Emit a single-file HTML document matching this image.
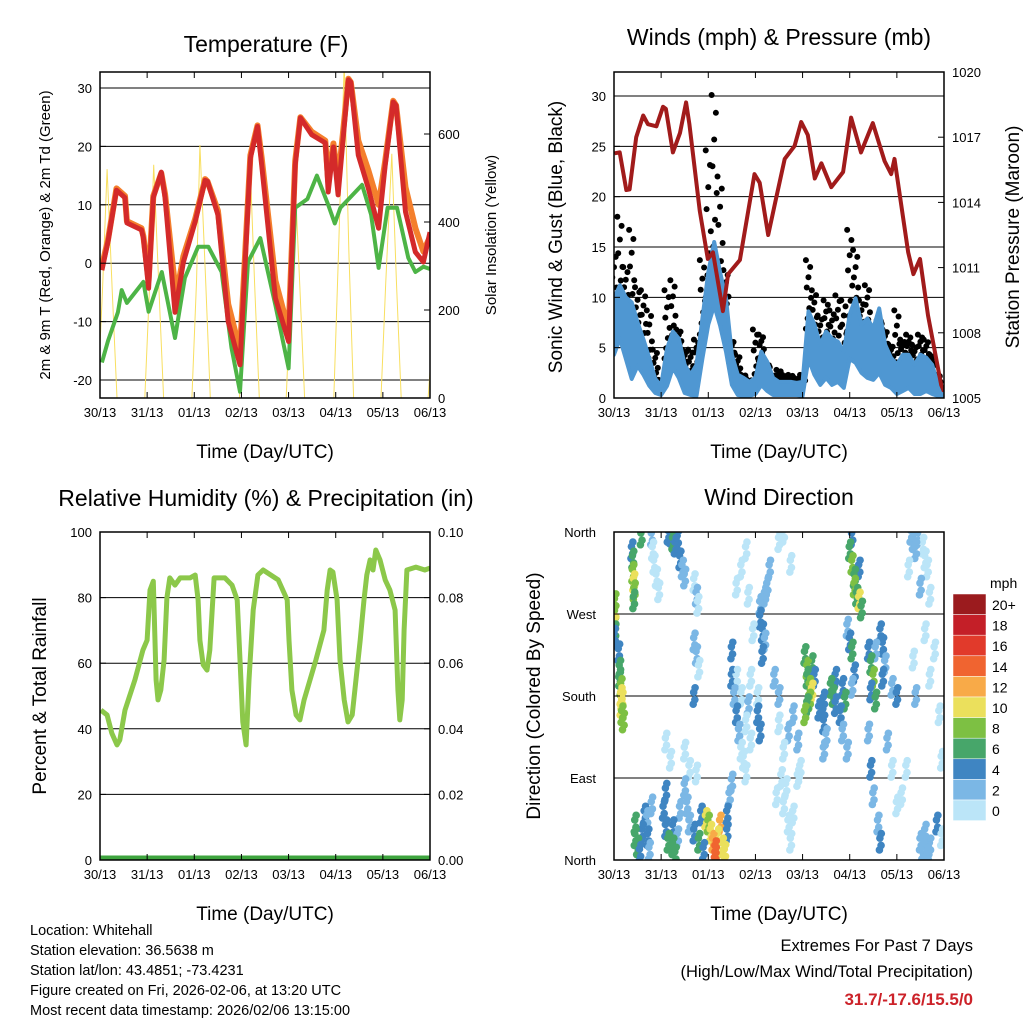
<!DOCTYPE html>
<html><head><meta charset="utf-8"><style>
body{margin:0;background:#fff;}
svg{display:block;font-family:"Liberation Sans",sans-serif;}
</style></head><body>
<svg id="chart" width="1024" height="1024" viewBox="0 0 1024 1024" xmlns="http://www.w3.org/2000/svg">
<rect width="1024" height="1024" fill="#fff"/>
<defs>
<clipPath id="c1"><rect x="100" y="72" width="330" height="326"/></clipPath>
<clipPath id="c2"><rect x="614" y="72" width="330" height="326"/></clipPath>
<clipPath id="c3"><rect x="100" y="532" width="330" height="328"/></clipPath>
<clipPath id="c4"><rect x="614" y="532" width="330" height="328"/></clipPath>
</defs>
<g id="layer"></g>
</svg>
<script>
// ---- Temperature data (day since 30/13, degF)
const tRedDay=[0.04,0.17,0.35,0.53,0.57,0.88,0.92,1.03,1.13,1.30,1.38,1.59,1.77,2.02,2.23,2.28,2.5,2.72,2.97,3.19,3.34,3.43,3.72,4.0,4.14,4.25,4.49,4.78,4.84,4.95,5.05,5.27,5.32,5.48,5.69,5.91,6.05,6.22,6.28,6.48,6.69,6.86,7.0];
const tRedVal=[-1.2,3.7,12.5,11.2,6.9,5.7,4.3,-4.3,11.2,15.6,11.2,-8.4,0.2,7.1,14.2,14,8.3,-10,-17.4,18,23.4,16.8,-6,-13.4,16.8,24.9,22,20.6,12.2,19.9,11.7,31.4,31,18.5,12.9,6,16.8,27.6,27,8.8,1.9,0.2,5.3];
const tOrgDay=[0.04,0.17,0.35,0.53,0.57,0.88,0.92,1.03,1.13,1.30,1.38,1.55,1.62,1.77,2.02,2.23,2.28,2.5,2.72,2.97,3.19,3.34,3.43,3.72,4.0,4.14,4.25,4.49,4.78,4.84,4.95,5.05,5.27,5.32,5.48,5.69,5.91,6.05,6.22,6.28,6.48,6.69,6.86,7.0];
const tOrgVal=[-0.5,4,12.8,11.5,7.2,6,4.6,-3,11.5,15.4,11.8,-1,-5.5,1.2,7.6,14.4,14,9,-7,-15,18.5,23.6,18,-3,-11.5,17.5,25,22.5,21,14,20.5,14,31.6,31,21,16,10,17.5,27.8,27,13,6,2,4.5];
const tDewDay=[0.04,0.17,0.38,0.46,0.57,0.92,1.03,1.31,1.59,1.8,2.08,2.3,2.58,2.79,2.97,3.14,3.4,3.72,4.0,4.14,4.4,4.6,4.84,4.98,5.1,5.56,5.75,5.91,6.1,6.3,6.54,6.69,6.86,7.0];
const tDewVal=[-17,-13.3,-8.4,-4.6,-6.8,-3.2,-8.3,-1.5,-12.8,-2.5,2.8,2.8,-1.5,-14.5,-22,0.2,4.3,-7.2,-18,9.5,11,15,10,6.8,9.5,13.4,8.3,-0.8,9.5,9.5,0.9,-1.5,-0.6,-1];
const solarDay=[-0.05,0.05,0.15,0.26,0.36, 0.95,1.05,1.14,1.25,1.35, 1.95,2.05,2.12,2.24,2.34, 2.96,3.06,3.18,3.28,3.38, 3.95,4.05,4.12,4.24,4.34, 4.96,5.06,5.18,5.28,5.38, 5.96,6.06,6.19,6.29,6.39, 6.96,7.0];
const solarVal=[0,240,520,240,0, 0,250,530,250,0, 0,270,575,270,0, 0,260,545,260,0, 0,250,540,250,0, 0,330,760,330,0, 0,260,555,260,0, 0,60];
const dayLabels=["30/13","31/13","01/13","02/13","03/13","04/13","05/13","06/13"];
const tempTicks=[-20,-10,0,10,20,30];
const solarTicks=[0,200,400,600];
// ---- Winds data
const presDay=[0.01,0.12,0.26,0.33,0.47,0.62,0.72,0.9,1.04,1.1,1.25,1.4,1.53,1.6,1.82,1.99,2.1,2.31,2.42,2.67,2.98,3.09,3.27,3.42,3.62,3.83,3.97,4.11,4.26,4.4,4.61,4.86,5.03,5.24,5.49,5.74,5.88,5.95,6.24,6.35,6.49,6.66,6.94,7.0];
const presVal=[1016.26,1016.3,1014.57,1014.6,1017,1018,1017.6,1017.5,1018.4,1018.3,1016.3,1017.2,1018.6,1017.6,1013.6,1011.4,1011.7,1009,1010.7,1011.35,1015.3,1014.9,1012.5,1014,1016,1016.6,1017.7,1017.1,1015.1,1015.8,1014.7,1015.4,1017.9,1016.3,1017.65,1015.9,1015.3,1016,1011.7,1010.7,1011.4,1008.8,1005.6,1005.3];
const windDay=[0,0.125,0.25,0.375,0.5,0.625,0.75,0.875,1,1.125,1.25,1.375,1.5,1.625,1.75,1.875,2,2.125,2.25,2.375,2.5,2.625,2.75,2.875,3,3.125,3.25,3.375,3.5,3.625,3.75,3.875,4,4.125,4.25,4.375,4.5,4.625,4.75,4.875,5,5.125,5.25,5.375,5.5,5.625,5.75,5.875,6,6.125,6.25,6.375,6.5,6.625,6.75,6.875,7];
const windHi=[9.9,11.2,10,9.5,7.5,5.8,3.9,1.9,1.2,4.9,6.6,5.9,3.3,2.3,3.3,7.9,12.5,15.5,12.5,9.9,4.3,2.3,2,1.6,2,4.6,3.6,2,1.6,1.6,1.6,1.5,1.6,8.6,7.3,5.3,6.6,5.9,5.6,4.6,8.3,9.9,7.3,7.9,6.9,8.9,5.3,4,3.3,4.3,4.3,3.3,4.3,4,3.3,1.3,1];
const windLo=[4.3,5.9,3.9,1.9,3.2,2.3,1.2,0.5,0.3,1.2,3,2,0.5,0.3,0.2,3.9,7.3,9.2,7.2,4.6,1.3,0.3,0.2,0.2,0.4,1.3,0.7,0.3,0.3,0.3,0.3,0.3,0.2,3.9,2.3,1.3,2,1.3,1.6,1,3.9,3.5,2.5,2,1.8,2.5,1.3,1,0.4,0.7,1,0.4,0.4,0.7,0.4,0.2,0.2];
const gustHi=[14.7,18,13,16.7,11,10.7,8.7,4.8,1.8,10.7,11.7,6.8,4.8,4.8,5.8,13.7,24.6,30.1,22,12.7,5.8,4.3,2.3,1.8,6.8,6.3,3.3,2.3,2.8,2.3,2.3,2,2.3,13.7,10.7,8.2,9.7,8.7,10.2,9.7,16.7,14.7,9.7,11.2,6.3,7.7,6.8,5.3,8.7,5.8,6.3,5.3,6.3,5.8,4.3,2.3,0.8];
const windTicks=[0,5,10,15,20,25,30];
const presTicks=[1005,1008,1011,1014,1017,1020];
// ---- RH data
const rhDay=[0.02,0.15,0.25,0.36,0.42,0.53,0.74,0.91,1.0,1.06,1.13,1.19,1.23,1.29,1.36,1.42,1.48,1.59,1.70,1.91,2.02,2.08,2.12,2.19,2.27,2.33,2.42,2.65,2.80,2.91,2.97,3.03,3.10,3.16,3.25,3.35,3.46,3.78,3.97,4.01,4.07,4.16,4.24,4.33,4.58,4.75,4.82,4.88,4.94,5.03,5.09,5.18,5.26,5.35,5.52,5.60,5.66,5.73,5.79,5.85,5.94,6.05,6.15,6.26,6.32,6.36,6.41,6.45,6.51,6.70,6.89,7.0];
const rhVal=[45.7,44.2,38.7,35.1,36.6,45.7,54.9,64,67,82.3,85,54.9,48.8,51.8,61,79.9,86,83.8,86,86,86.9,79.3,67,59.5,57.9,64,86,86,83.8,79.3,61,42.1,35.1,54.9,76.2,86.9,88.4,85.4,79.3,67,51.8,44.2,42.7,48.8,61,70.1,82.3,88.4,87.8,79.3,61,48.8,42.1,44.2,67,79.3,86.9,91.5,88.4,94.5,91.5,85.4,82.3,76.2,51.8,42.7,48.8,70.1,88.4,89.3,88.4,89];
const rainDay=[0,7];
const rainVal=[0,0];
const rhTicks=[0,20,40,60,80,100];
const rainTicks=["0.00","0.02","0.04","0.06","0.08","0.10"];
// ---- Wind direction data [day, deg, mph]
const dirDay=[0.02,0.02,0.02,0.02,0.01,0.1,0.12,0.15,0.15,0.17,0.15,0.17,0.2,0.12,0.4,0.4,0.42,0.43,0.42,0.38,0.58,0.8,0.82,0.85,0.9,0.95,1.15,1.2,1.25,1.3,1.4,1.45,1.5,1.35,1.7,1.75,1.78,1.7,1.75,1.8,1.7,1.1,1.2,1.5,1.6,1.75,1.5,0.45,0.45,0.5,0.55,0.6,0.65,0.7,0.72,0.75,0.8,1.1,1.05,1.1,1.15,1.25,1.3,1.25,1.35,1.4,1.55,1.6,1.7,1.8,1.85,1.9,1.95,2.0,2.05,2.1,2.15,2.15,2.2,2.25,2.3,2.35,2.4,2.4,2.45,2.5,2.5,2.5,2.55,2.6,2.65,2.7,2.75,2.8,2.6,2.7,2.8,2.9,2.85,2.9,2.6,2.7,2.8,2.85,2.95,3.1,3.1,3.15,3.2,3.15,3.2,3.25,3.3,3.05,3.05,3.1,3.4,3.5,3.5,3.6,3.55,3.6,3.7,3.65,3.75,3.8,3.9,3.7,3.8,3.9,3.5,3.6,3.75,3.95,3.45,4.05,4.1,4.1,4.15,4.2,4.15,4.05,4.2,4.25,4.1,4.35,4.45,4.45,4.5,4.45,4.6,4.65,4.7,4.7,4.8,4.85,4.9,4.85,4.95,5.0,5.05,5.1,5.1,5.15,5.2,5.25,5.2,5.05,4.95,5.0,5.05,5.1,5.05,5.4,5.45,5.5,5.45,5.55,5.55,5.65,5.7,5.75,5.7,5.4,5.45,5.5,5.6,5.65,5.8,5.9,6.0,5.9,6.0,6.3,6.35,6.4,6.45,6.55,6.6,6.65,6.5,6.25,6.7,6.5,6.55,6.6,6.65,6.7,6.85,6.95,6.6,6.7,6.9,6.95,6.2,6.1,6.8,6.35,6.4];
const dirDeg=[283,270,258,250,245,228,210,190,180,175,168,160,152,200,330,315,305,295,285,340,355,355,340,325,310,295,358,356,350,345,330,320,310,352,305,290,280,240,225,210,180,130,110,120,100,95,80,40,25,15,8,30,50,45,25,10,60,75,55,35,20,15,5,35,25,55,60,40,30,20,50,10,45,40,30,20,12,5,25,40,15,8,30,50,70,85,230,200,180,160,140,120,110,95,200,180,150,130,170,200,300,320,340,290,250,280,265,250,240,225,290,300,320,180,160,140,200,180,150,120,90,60,40,80,20,50,90,140,160,130,350,358,325,100,70,225,210,200,190,185,175,160,215,200,170,165,175,150,135,120,190,180,200,170,160,190,175,140,120,340,325,310,300,290,285,275,320,355,255,240,230,205,190,230,215,200,185,175,230,250,235,215,200,140,100,70,40,20,130,100,60,190,180,358,350,340,355,345,330,320,300,320,290,20,10,30,5,15,40,25,250,200,160,110,100,70,230,220,180];
const dirSpd=[8,8,10,6,4,4,6,8,10,10,10,8,8,6,6,8,10,8,6,4,6,2,0,0,0,0,4,4,6,4,4,2,2,4,0,2,0,2,2,0,4,0,0,0,0,0,2,6,6,6,4,4,4,2,4,2,2,4,4,4,6,6,6,4,2,2,2,2,4,6,4,4,10,8,10,12,14,14,10,12,10,10,4,4,2,2,4,4,2,4,2,0,0,0,0,0,0,0,2,0,0,0,0,0,0,2,4,4,2,4,2,2,2,0,4,4,2,2,0,0,0,0,0,0,0,0,0,2,2,2,0,0,0,0,0,6,8,6,8,10,8,8,6,4,6,4,4,4,2,2,6,6,4,4,4,4,6,2,2,6,8,6,8,6,10,6,4,4,2,4,6,4,2,4,6,8,4,6,2,4,4,2,4,2,4,2,2,4,2,0,0,2,4,2,2,2,2,0,0,0,2,0,0,2,2,2,2,2,4,0,0,0,0,0,0,0,0,0,2,2];
const cbLabels=["20+","18","16","14","12","10","8","6","4","2","0"];
const cbColors=["#9b1b1e","#c41f28","#e13a2b","#f06430","#f8aa48","#ebe05c","#7dc043","#47a66a","#3f85c2","#7bb7e5","#bbe5f8"];

const NS="http://www.w3.org/2000/svg";
const layer=document.getElementById('layer');
function mk(tag,attrs,parent,txt){const e=document.createElementNS(NS,tag);for(const k in attrs)e.setAttribute(k,attrs[k]);if(txt!==undefined)e.textContent=txt;(parent||layer).appendChild(e);return e;}
function linScale(d0,d1,r0,r1){return v=>r0+(v-d0)*(r1-r0)/(d1-d0);}
function pathFrom(xs,ys,fx,fy){return xs.map((d,i)=>(i?'L':'M')+fx(d).toFixed(1)+','+fy(ys[i]).toFixed(1)).join('');}

function frame(x0,y0,x1,y1,name){
  const r=mk('rect',{x:x0,y:y0,width:x1-x0,height:y1-y0,fill:'none',stroke:'#000','stroke-width':1.5});
  
}
function xAxis(x0,x1,y0,y1,fx,name){
  const g=mk('g',{});
  dayLabels.forEach((lab,i)=>{const x=fx(i);
    mk('line',{x1:x,x2:x,y1:y1,y2:y1-6,stroke:'#000'},g);mk('line',{x1:x,x2:x,y1:y0,y2:y0+6,stroke:'#000'},g);
    const t=mk('text',{x:x,y:y1+19,'font-size':13,'text-anchor':'middle'},g,lab);
    });
  const t=mk('text',{x:(x0+x1)/2,y:y1+60,'font-size':19,'text-anchor':'middle'},g,'Time (Day/UTC)');
  
}
function hgrid(vals,fy,x0,x1,g){vals.forEach(v=>{mk('line',{x1:x0,x2:x1,y1:fy(v),y2:fy(v),stroke:'#000','stroke-width':1},g);});}
function yTicksLeft(vals,labels,fy,x0,g){vals.forEach((v,i)=>{mk('line',{x1:x0,x2:x0+6,y1:fy(v),y2:fy(v),stroke:'#000'},g);
  const t=mk('text',{x:x0-8,y:fy(v)+5,'font-size':13,'text-anchor':'end'},g,labels[i]);});}
function yTicksRight(vals,labels,fy,x1,g){vals.forEach((v,i)=>{mk('line',{x1:x1,x2:x1-6,y1:fy(v),y2:fy(v),stroke:'#000'},g);
  const t=mk('text',{x:x1+8,y:fy(v)+5,'font-size':13,'text-anchor':'start'},g,labels[i]);});}
function title(x,y,s,name){const t=mk('text',{x:x,y:y,'font-size':23,'text-anchor':'middle'},layer,s);}
function vlabel(x,y,s,size,name){const t=mk('text',{x:x,y:y,'font-size':size,'text-anchor':'middle',transform:`rotate(-90 ${x} ${y})`},layer,s);}

// ===== Panel 1: Temperature
{
 const fx=linScale(0,7,100,430), fy=linScale(0,30,263.2,88), fs=linScale(0,600,398,134);
 const g=mk('g',{});
 hgrid(tempTicks,fy,100,430,g);
 const cg=mk('g',{'clip-path':'url(#c1)'},g);
 const s=mk('path',{d:pathFrom(solarDay,solarVal,fx,fs),fill:'none',stroke:'#f8df60','stroke-width':1},cg);
 
 const o=mk('path',{d:pathFrom(tOrgDay,tOrgVal,fx,fy),fill:'none',stroke:'#f47f2c','stroke-width':6,'stroke-linejoin':'round'},cg);
 
 const gr=mk('path',{d:pathFrom(tDewDay,tDewVal,fx,fy),fill:'none',stroke:'#4db446','stroke-width':4,'stroke-linejoin':'round'},cg);
 
 const r=mk('path',{d:pathFrom(tRedDay,tRedVal,fx,fy),fill:'none',stroke:'#d42a2a','stroke-width':5,'stroke-linejoin':'round'},cg);
 
 yTicksLeft(tempTicks,tempTicks.map(String),fy,100,g);
 yTicksRight(solarTicks,solarTicks.map(String),fs,430,g);
 frame(100,72,430,398,'temperature');
 xAxis(100,430,72,398,fx,'temperature');
 title(266,52,'Temperature (F)','temperature-title');
 vlabel(50,235,'2m & 9m T (Red, Orange) & 2m Td (Green)',15,'temperature-y-axis-title');
 vlabel(496,235,'Solar Insolation (Yellow)',15,'solar-y-axis-title');
}
// ===== Panel 2: Winds
{
 const fx=linScale(0,7,614,944), fy=linScale(0,30,398,96), fp=linScale(1005,1020,398,72);
 const g=mk('g',{});
 hgrid(windTicks.slice(1),fy,614,944,g);
 const cg=mk('g',{'clip-path':'url(#c2)'},g);
 windDay.forEach((t,i)=>{
   const fr=[0,0.15,0.3,0.45,0.6,0.75,0.9,1];
   fr.forEach((f,k)=>{
     const v=windHi[i]*0.8+(gustHi[i]-windHi[i]*0.8)*f;
     const off=((k*37)%7-3)*0.018;
     const dot=mk('circle',{cx:fx(t+off),cy:fy(v),r:3,fill:'#000'},cg);
     
   });
 });
 let d='M'+windDay.map((t,i)=>fx(t).toFixed(1)+','+fy(windHi[i]).toFixed(1)).join('L');
 for(let i=windDay.length-1;i>=0;i--)d+='L'+fx(windDay[i]).toFixed(1)+','+fy(windLo[i]).toFixed(1);
 const band=mk('path',{d:d+'Z',fill:'#4f97d2',stroke:'#4f97d2','stroke-width':4,'stroke-linejoin':'round'},cg);
 
 const p=mk('path',{d:pathFrom(presDay,presVal,fx,fp),fill:'none',stroke:'#a11b1b','stroke-width':4,'stroke-linejoin':'round'},cg);
 
 yTicksLeft(windTicks,windTicks.map(String),fy,614,g);
 yTicksRight(presTicks,presTicks.map(String),fp,944,g);
 frame(614,72,944,398,'winds');
 xAxis(614,944,72,398,fx,'winds');
 title(779,45,'Winds (mph) & Pressure (mb)','winds-title');
 vlabel(562,237,'Sonic Wind & Gust (Blue, Black)',19,'wind-y-axis-title');
 vlabel(1019,237,'Station Pressure (Maroon)',19,'pressure-y-axis-title');
}
// ===== Panel 3: RH
{
 const fx=linScale(0,7,100,430), fy=linScale(0,100,860,532), fr=linScale(0,0.1,860,532);
 const g=mk('g',{});
 hgrid(rhTicks.slice(1,5),fy,100,430,g);
 const cg=mk('g',{'clip-path':'url(#c3)'},g);
 const rl=mk('path',{d:pathFrom(rainDay,rainVal,fx,fr),fill:'none',stroke:'#3ea43e','stroke-width':9},cg);
 
 const h=mk('path',{d:pathFrom(rhDay,rhVal,fx,fy),fill:'none',stroke:'#8cc84a','stroke-width':5,'stroke-linejoin':'round'},cg);
 
 yTicksLeft(rhTicks,rhTicks.map(String),fy,100,g);
 yTicksRight(rainTicks.map(Number),rainTicks,fr,430,g);
 frame(100,532,430,860,'humidity');
 xAxis(100,430,532,860,fx,'humidity');
 title(266,506,'Relative Humidity (%) & Precipitation (in)','humidity-title');
 vlabel(46,696,'Percent & Total Rainfall',19,'humidity-y-axis-title');
}
// ===== Panel 4: Wind direction
{
 const fx=linScale(0,7,614,944), fy=linScale(0,360,860,532);
 const g=mk('g',{});
 hgrid([90,180,270],fy,614,944,g);
 const cg=mk('g',{'clip-path':'url(#c4)'},g);
 function col(s){let k=Math.round(Math.min(s,20)/2);return cbColors[10-k];}
 const spread=[[-0.02,-9],[0.015,-4],[-0.01,4],[0.02,9]];
 spread.forEach(sp=>{
   dirDay.forEach((t,i)=>{
     const c=mk('circle',{cx:fx(t+sp[0]),cy:fy(dirDeg[i]+sp[1]),r:3.8,fill:col(dirSpd[i])},cg);
     
   });
 });
 const dl=["North","East","South","West","North"];
 [0,90,180,270,360].forEach((v,i)=>{mk('line',{x1:614,x2:620,y1:fy(v),y2:fy(v),stroke:'#000'},g);
   const t=mk('text',{x:596,y:fy(v)+5,'font-size':13,'text-anchor':'end'},g,dl[i]);});
 frame(614,532,944,860,'wind-direction');
 xAxis(614,944,532,860,fx,'wind-direction');
 title(779,505,'Wind Direction','wind-direction-title');
 vlabel(540,696,'Direction (Colored By Speed)',19,'direction-y-axis-title');
 const cb=mk('g',{});
 const t0=mk('text',{x:990,y:588,'font-size':14},cb,'mph');
 cbLabels.forEach((lab,i)=>{const y=594+i*20.6;
   const r=mk('rect',{x:953,y:y,width:33,height:20.6,fill:cbColors[i],stroke:'#fff','stroke-width':0.5},cb);
   
   const t=mk('text',{x:992,y:y+16,'font-size':14},cb,lab);});
}
// ===== Footer
{
 const lines=["Location: Whitehall","Station elevation: 36.5638 m","Station lat/lon: 43.4851; -73.4231","Figure created on Fri, 2026-02-06, at 13:20 UTC","Most recent data timestamp: 2026/02/06 13:15:00"];
 lines.forEach((s,i)=>{const t=mk('text',{x:30,y:935+i*20,'font-size':14.5},layer,s);});
 const a=mk('text',{x:973,y:951,'font-size':16.5,'text-anchor':'end'},layer,'Extremes For Past 7 Days');
 const b=mk('text',{x:973,y:977,'font-size':16.5,'text-anchor':'end'},layer,'(High/Low/Max Wind/Total Precipitation)');
 const c=mk('text',{x:973,y:1005,'font-size':17,'font-weight':'bold','text-anchor':'end',fill:'#cc2229'},layer,'31.7/-17.6/15.5/0');
}
</script>
</body></html>
